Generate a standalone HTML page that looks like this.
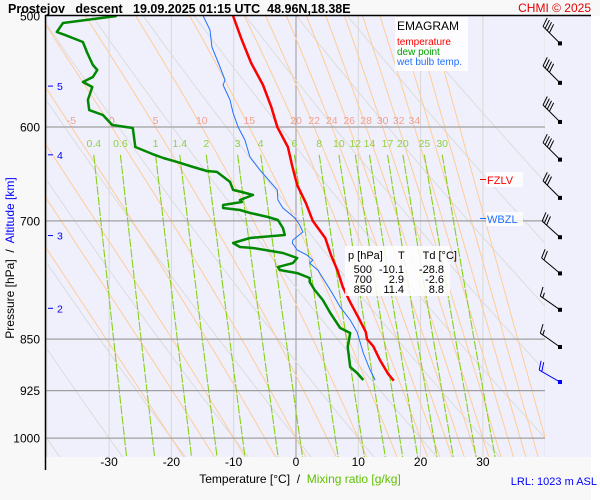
<!DOCTYPE html>
<html><head><meta charset="utf-8"><style>
html,body{margin:0;padding:0;background:#f8f8f8;}
svg{display:block;font-family:"Liberation Sans",sans-serif;}
text{white-space:pre;}
</style></head><body>
<svg id="chart" width="600" height="500" viewBox="0 0 600 500" xmlns="http://www.w3.org/2000/svg" xml:space="preserve">
<defs><clipPath id="plotclip"><rect x="46" y="16" width="499" height="441"/></clipPath></defs>
<rect x="0" y="0" width="600" height="500" fill="#f8f8f8"/>
<rect x="46" y="16" width="545" height="441" fill="#f0f0fc"/>
<rect x="591" y="16" width="9" height="484" fill="#ffffff"/>
<g id="grid" clip-path="url(#plotclip)"></g>
<g id="labels"></g>
<g id="series" clip-path="url(#plotclip)"></g>
<g id="barbs"></g>
<line x1="45.5" y1="15" x2="45.5" y2="470" stroke="#000" stroke-width="1.5"/>
<line x1="45" y1="15.5" x2="591" y2="15.5" stroke="#000" stroke-width="1.5"/>
<text x="8" y="13" font-size="12.5" font-weight="bold">Prostejov   descent   19.09.2025 01:15 UTC  48.96N,18.38E</text>
<text x="591" y="12" font-size="12" fill="#e00000" text-anchor="end">CHMI © 2025</text>
<g>
<rect x="395" y="17" width="73" height="54" fill="#ffffff" opacity="0.85"/>
<text x="397" y="30" font-size="12" fill="#000">EMAGRAM</text>
<text x="397" y="45" font-size="10" fill="#ff0000">temperature</text>
<text x="397" y="55" font-size="10" fill="#00a000">dew point</text>
<text x="397" y="65" font-size="10" fill="#2070ff">wet bulb temp.</text>
</g>
<g>
<rect x="345" y="246" width="105" height="50" fill="#ffffff" opacity="0.85"/>
<text x="348" y="259" font-size="11">p [hPa]     T      Td [°C]</text>
<g font-size="11" text-anchor="end">
<text x="372" y="273">500</text><text x="404" y="273">-10.1</text><text x="444" y="273">-28.8</text>
<text x="372" y="283">700</text><text x="404" y="283">2.9</text><text x="444" y="283">-2.6</text>
<text x="372" y="293">850</text><text x="404" y="293">11.4</text><text x="444" y="293">8.8</text>
</g></g>
<g>
<rect x="486" y="172" width="37" height="15" fill="#ffffff" opacity="0.8"/>
<line x1="480" y1="179.5" x2="486" y2="179.5" stroke="#ff0000"/>
<text x="487" y="184" font-size="11" fill="#ff0000">FZLV</text>
</g>
<g>
<rect x="486" y="212" width="37" height="14" fill="#ffffff" opacity="0.8"/>
<line x1="480" y1="218.5" x2="486" y2="218.5" stroke="#2070ff"/>
<text x="487" y="223" font-size="11" fill="#2070ff">WBZL</text>
</g>
<text transform="translate(14,258) rotate(-90)" font-size="12" text-anchor="middle">Pressure [hPa]  /  <tspan fill="#0000ff">Altitude [km]</tspan></text>
<text x="300" y="483" font-size="12" text-anchor="middle">Temperature [°C]  /  <tspan fill="#60c000">Mixing ratio [g/kg]</tspan></text>
<text x="597" y="485" font-size="11" fill="#0000ff" text-anchor="end">LRL: 1023 m ASL</text>
</svg>
<script>
const pressureTicks=[500,600,700,850,925,1000];
const tempTicks=[-30,-20,-10,0,10,20,30];
const altKm=[5,4,3,2];
const altP=[561,628,717,808];
const thetaWLabels=[-5,0,5,10,15,20,22,24,26,28,30,32,34];
const thetaWExtra=[-20,-15,-10,36,38,40];
const mixRatios=[0.4,0.6,1,1.4,2,3,4,6,8,10,12,14,17,20,25,30];
const dryTheta=[-80,-70,-60,-50,-40,-30,-20,-10,0,10,20,30,40,50,60,70,80];
const tempP=[500,520,540,560,580,600,620,640,660,680,700,720,740,760,780,800,820,840,850,860,880,900,910];
const tempT=[-10.1,-8.7,-7.2,-5.3,-4.0,-3.0,-1.3,-0.6,0.2,1.6,2.7,4.7,5.6,6.7,7.5,8.7,10.0,11.2,11.4,12.4,13.5,14.8,15.7];
const dewP=[500,505.8,513.3,515.8,521.8,531.3,541.9,546.4,552.7,557.2,561.8,573.9,583.5,588.3,598,601,620,627.1,631.3,635.4,640.7,644.9,645.9,656.6,665.3,667.5,670.8,676.4,678.6,681.9,685.3,687.6,690.9,695.5,698.9,708.2,716.4,719.9,725.8,730.6,731.8,737.9,743.9,750.2,755.1,758.8,762.6,768.8,773.9,784.1,797.1,814.3,834.6,841.5,861,889.8,898.6,909];
const dewT=[-28.8,-37.4,-38.4,-37.1,-34.2,-33.5,-32.6,-31.9,-32.6,-34.2,-32.7,-33.4,-33.2,-31.0,-29.5,-26.2,-25.8,-23.1,-21.3,-19.1,-16.5,-14.3,-12.7,-10.6,-10.1,-8.7,-6.9,-9.0,-8.7,-11.7,-11.7,-9.0,-7.4,-4.5,-2.9,-2.1,-1.8,-7.4,-10.1,-9.0,-6.9,-2.1,0.2,-0.5,-2.9,-2.6,0.2,2.2,2.2,3.0,4.3,5.5,7.1,8.7,8.3,8.7,9.8,10.8];
const wetP=[500,511.6,526.1,543.7,555.4,560,573.9,586.3,600,612.9,630.2,643.8,665.3,676.4,685.3,696.6,704.7,712.9,722.3,725.8,734.3,740.5,746.5,750.2,758.8,773.9,788,806.4,823.7,840.2,869.6,894.2,909];
const wetT=[-14.9,-13.8,-13.5,-12.2,-11.4,-11.7,-10.6,-10.1,-9.3,-8.2,-7.4,-5.8,-3.0,-2.9,-2.1,-0.2,0.6,1.1,-0.5,-0.6,0.2,1.8,2.7,2.2,3.5,4.7,5.8,7.1,8.7,9.8,10.8,11.9,12.7];
const barbP=[523,558,595,633,674,719,763,810,861,912];
const barbSpeed=[40,40,40,40,30,30,20,15,15,20];
const barbDir=[315,315,315,315,315,312,310,305,305,300];

const NS='http://www.w3.org/2000/svg';
const X=t=>296+6.23*t;
const Y=p=>16+609*Math.log(p/500);
function mk(tag,attrs,parent){const e=document.createElementNS(NS,tag);for(const k in attrs)e.setAttribute(k,attrs[k]);parent.appendChild(e);return e;}
const grid=document.getElementById('grid'),labels=document.getElementById('labels'),series=document.getElementById('series'),barbs=document.getElementById('barbs');
function pathFrom(ps,ts){return ps.map((p,i)=>(i?'L':'M')+X(ts[i]).toFixed(1)+','+Y(p).toFixed(1)).join('');}

for(let t=-40;t<=40;t+=10){const l=mk('line',{x1:X(t),y1:16,x2:X(t),y2:457,stroke:t===0?'#999':'#d8d8d8','stroke-width':1},grid);

}
dryTheta.forEach(th=>{const pts=[];for(let p=480;p<=1050;p+=10){const T=(th+273.15)*Math.pow(p/1000,0.286)-273.15;pts.push((pts.length?'L':'M')+X(T).toFixed(1)+','+Y(p).toFixed(1));}
const e=mk('path',{d:pts.join(''),fill:'none',stroke:'#dcdcdc','stroke-width':1},grid);

});
function esat(tc){return 6.112*Math.exp(17.67*tc/(tc+243.5));}
function moist(thw){const out=[];const step=(T,p,dp)=>{const tc=T-273.15;const es=esat(tc);const r=0.622*es/(p-es);const dTdp=(287*T+2.5e6*r)/(p*(1005+2.5e6*2.5e6*r*0.622/(287*T*T)));return T+dTdp*dp;};
let T=thw+273.15;for(let p=1000;p>=480;p-=5){out.unshift([p,T-273.15]);T=step(T,p,-5);}
T=thw+273.15;for(let p=1005;p<=1060;p+=5){T=step(T,p-5,5);out.push([p,T-273.15]);}return out;}
const orangeAll=thetaWLabels.concat(thetaWExtra);
orangeAll.forEach(th=>{const m=moist(th);
const e=mk('path',{d:m.map((q,i)=>(i?'L':'M')+X(q[1]).toFixed(1)+','+Y(q[0]).toFixed(1)).join(''),fill:'none',stroke:'#ffcc99','stroke-width':1},grid);


if(thetaWLabels.includes(th)){const at=m.find(q=>q[0]===600);const tx=mk('text',{x:X(at[1]).toFixed(1),y:124,'font-size':10.5,fill:'#f0a090','text-anchor':'middle'},labels);tx.textContent=th;

}});
function tdFor(w,p){const e=w*p/(622+w);const l=Math.log(e/6.112);return 243.5*l/(17.67-l);}
mixRatios.forEach(w=>{const pts=[];for(let p=628;p<=1040;p+=12){pts.push((pts.length?'L':'M')+X(tdFor(w,p)).toFixed(1)+','+Y(p).toFixed(1));}
const e=mk('path',{d:pts.join(''),fill:'none',stroke:'#88d018','stroke-width':1.1,'stroke-dasharray':'9,1.5'},grid);


const tx=mk('text',{x:X(tdFor(w,628)).toFixed(1),y:147,'font-size':10.5,fill:'#90d040','text-anchor':'middle'},labels);tx.textContent=w;

});
pressureTicks.forEach(p=>{if(p>500){const l=mk('line',{x1:46,y1:Y(p),x2:545,y2:Y(p),stroke:'#a0a0a0','stroke-width':1.3},grid);

}
const t=mk('text',{x:40,y:Y(p)+4.5,'font-size':12,'text-anchor':'end'},labels);t.textContent=p;

});
tempTicks.forEach(v=>{const t=mk('text',{x:X(v),y:466,'font-size':12,'text-anchor':'middle'},labels);t.textContent=v;

});
altKm.forEach((k,i)=>{const y=Y(altP[i]);const l=mk('line',{x1:48,y1:y,x2:53,y2:y,stroke:'#0000ff'},labels);


const t=mk('text',{x:57,y:y+4,'font-size':10.5,fill:'#0000ff'},labels);t.textContent=k;

});
const wb=mk('path',{d:pathFrom(wetP,wetT),fill:'none',stroke:'#2070ff','stroke-width':1},series);


const dw=mk('path',{d:pathFrom(dewP,dewT),fill:'none',stroke:'#008800','stroke-width':2.5,'stroke-linejoin':'round'},series);


const tp=mk('path',{d:pathFrom(tempP,tempT),fill:'none',stroke:'#ff0000','stroke-width':2.5,'stroke-linejoin':'round'},series);


barbP.forEach((p,i)=>{const cx=560,cy=Y(p);const a=barbDir[i]*Math.PI/180;const ux=Math.sin(a),uy=-Math.cos(a);
const col=i===barbP.length-1?'#0000ff':'#000';const ex=cx+ux*24,ey=cy+uy*24;
const g=mk('g',{stroke:col,'stroke-width':1,fill:'none'},barbs);


mk('line',{x1:cx,y1:cy,x2:ex,y2:ey},g);mk('rect',{x:cx-2,y:cy-2,width:4,height:4,fill:col,stroke:'none'},g);
const px=-uy,py=ux;let s=barbSpeed[i],k=0;
while(s>=10){const bx=ex-ux*k*3,by=ey-uy*k*3;mk('line',{x1:bx,y1:by,x2:bx+px*9+ux*3,y2:by+py*9+uy*3},g);s-=10;k++;}
if(s>=5){const bx=ex-ux*(k*3+(k?0:3)),by=ey-uy*(k*3+(k?0:3));mk('line',{x1:bx,y1:by,x2:bx+px*5+ux*1.5,y2:by+py*5+uy*1.5},g);}});
</script>
</body></html>
